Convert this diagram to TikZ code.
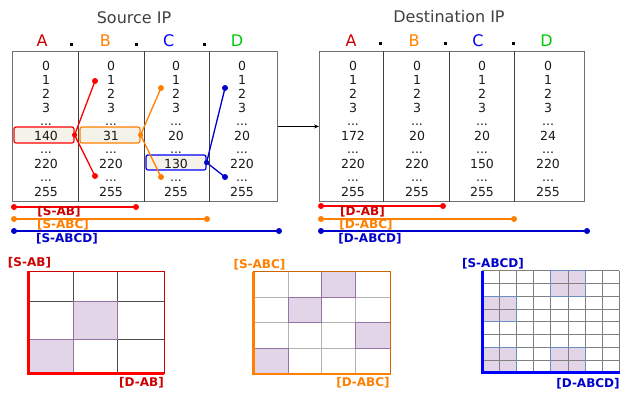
\documentclass[tikz,border=0pt]{standalone}
\usepackage{fontspec}
\setmainfont{DejaVu Sans}
\usetikzlibrary{arrows.meta}
\definecolor{cRed}{HTML}{FF0000}
\definecolor{cDRed}{HTML}{CC0000}
\definecolor{cOr}{HTML}{FF8000}
\definecolor{cBlue}{HTML}{0000CC}
\definecolor{cBlueL}{HTML}{0000FF}
\definecolor{cGreen}{HTML}{00CC00}
\definecolor{cFill}{HTML}{E1D5E7}
\definecolor{cPur}{HTML}{9673A6}
\definecolor{cBlk}{HTML}{6C8EBF}
\definecolor{cHl}{HTML}{F5F2EA}
\definecolor{cTitle}{HTML}{404040}
\definecolor{cNum}{HTML}{1A1A1A}
\definecolor{cBox}{HTML}{707070}
\begin{document}
\begin{tikzpicture}[x=1pt,y=-1pt,
  num/.style={font=\fontsize{12.5}{12.5}\selectfont, text=cNum, anchor=base, inner sep=0},
  ttl/.style={font=\fontsize{16}{16}\selectfont, text=cTitle, inner sep=0},
  oct/.style={font=\fontsize{16}{16}\selectfont, text=#1, inner sep=0},
  dotsep/.style={fill=black, minimum size=3pt, inner sep=0},
  tbl/.style={draw=cBox, line width=0.9pt, inner sep=0, anchor=north west, minimum width=265pt, minimum height=150pt},
  divl/.style={draw=black!75, line width=0.8pt},
  hl/.style={draw=#1, fill=cHl, line width=1.2pt, rounded corners=2pt, inner sep=0, minimum width=60pt, minimum height=16pt},
  lab/.style={font=\bfseries\fontsize{12}{12}\selectfont, text=#1, inner sep=0},
  seg/.style={draw=#1, line width=1.3pt},
  shcell/.style={fill=cFill},
]
\useasboundingbox (0,0) rectangle (620,392);

% ---------- titles ----------
\node[ttl] (tsrc) at (134,18) {Source IP};
\node[ttl] (tdst) at (449,17) {Destination IP};

% ---------- octet letters ----------
\node[oct=cDRed] (sA) at (42,41) {A};
\node[oct=cOr] (sB) at (105.3,41) {B};
\node[oct=cBlueL] (sC) at (168.7,41) {C};
\node[oct=cGreen] (sD) at (237,41) {D};
\node[dotsep] (sp1) at (71.7,44.3) {};
\node[dotsep] (sp2) at (136.7,44.3) {};
\node[dotsep] (sp3) at (204.3,44.3) {};

\node[oct=cDRed] (dA) at (351,41) {A};
\node[oct=cOr] (dB) at (414,41) {B};
\node[oct=cBlueL] (dC) at (478,41) {C};
\node[oct=cGreen] (dD) at (546.5,41) {D};
\node[dotsep] (dp1) at (380.7,43.3) {};
\node[dotsep] (dp2) at (445.7,43.3) {};
\node[dotsep] (dp3) at (513.3,43.3) {};

% ---------- tables ----------
\node[tbl] (src) at (12,51) {};
\foreach \x in {78,144,209} \draw[divl] (\x,0 |- src.north) -- (\x,0 |- src.south);
\node[tbl] (dst) at (319,51) {};
\foreach \x in {383,449,514} \draw[divl] (\x,0 |- dst.north) -- (\x,0 |- dst.south);

\draw[-{Stealth[length=5pt,width=4pt]}, line width=0.7pt] (src.east) -- (dst.west);

% highlight boxes
\node[hl=cRed] (hA) at (44,135) {};
\node[hl=cOr] (hB) at (110,135) {};
\node[hl=cBlueL, minimum height=15pt] (hC) at (176,162.5) {};

% source numbers
\foreach \cx/\va/\vb [count=\c] in {46/140/220,111/31/220,176/20/130,242/20/220}{
  \foreach \t [count=\r from 0] in {0,1,2,3}{\node[num] (s\c-\r) at (\cx,70+14*\r) {\t};}
  \node[num] (s\c-d1) at (\cx,125) {...};
  \node[num] (s\c-a) at (\cx,140) {\va};
  \node[num] (s\c-d2) at (\cx,153) {...};
  \node[num] (s\c-b) at (\cx,168) {\vb};
  \node[num] (s\c-d3) at (\cx,181) {...};
  \node[num] (s\c-e) at (\cx,196) {255};
}
% destination numbers
\foreach \cx/\va/\vb [count=\c] in {353/172/220,417/20/220,482/20/150,548/24/220}{
  \foreach \t [count=\r from 0] in {0,1,2,3}{\node[num] (d\c-\r) at (\cx,70+14*\r) {\t};}
  \node[num] (d\c-d1) at (\cx,125) {...};
  \node[num] (d\c-a) at (\cx,140) {\va};
  \node[num] (d\c-d2) at (\cx,153) {...};
  \node[num] (d\c-b) at (\cx,168) {\vb};
  \node[num] (d\c-d3) at (\cx,181) {...};
  \node[num] (d\c-e) at (\cx,196) {255};
}

% ---------- link connectors ----------
\coordinate (ra1) at (95,81);   \coordinate (ra2) at (95,176);
\coordinate (ob1) at (161,88);  \coordinate (ob2) at (161,177);
\coordinate (bc1) at (225,88);  \coordinate (bc2) at (225,177);
\draw[seg=cRed] (ra1) -- (hA.east) -- (ra2);
\draw[seg=cOr] (ob1) -- (hB.east) -- (ob2);
\draw[seg=cBlue] (bc1) -- (hC.east) -- (bc2);
\fill[cRed] (ra1) circle (3pt) (ra2) circle (3pt) (hA.east) circle (2.6pt);
\fill[cOr] (ob1) circle (3pt) (ob2) circle (3pt) (hB.east) circle (2.6pt);
\fill[cBlue] (bc1) circle (3pt) (bc2) circle (3pt) (hC.east) circle (2.6pt);

% ---------- range bars ----------
\coordinate (sab1) at (14,207);   \coordinate (sab2) at (136,207);
\coordinate (sabc1) at (14,219);  \coordinate (sabc2) at (207,219);
\coordinate (sabcd1) at (14,231); \coordinate (sabcd2) at (279,231);
\coordinate (dab1) at (321,206);   \coordinate (dab2) at (443,206);
\coordinate (dabc1) at (321,219);  \coordinate (dabc2) at (514,219);
\coordinate (dabcd1) at (321,231); \coordinate (dabcd2) at (587,231);
\draw[seg=cRed] (sab1) -- (sab2);
\draw[seg=cOr] (sabc1) -- (sabc2);
\draw[seg=cBlue] (sabcd1) -- (sabcd2);
\draw[seg=cRed] (dab1) -- (dab2);
\draw[seg=cOr] (dabc1) -- (dabc2);
\draw[seg=cBlue] (dabcd1) -- (dabcd2);
\fill[cRed] (sab1) circle (3pt) (sab2) circle (3pt) (dab1) circle (3pt) (dab2) circle (3pt);
\fill[cOr] (sabc1) circle (3pt) (sabc2) circle (3pt) (dabc1) circle (3pt) (dabc2) circle (3pt);
\fill[cBlue] (sabcd1) circle (3pt) (sabcd2) circle (3pt) (dabcd1) circle (3pt) (dabcd2) circle (3pt);
\node[lab=cDRed] (lsab) at (59,212) {[S-AB]};
\node[lab=cOr] (lsabc) at (63,225) {[S-ABC]};
\node[lab=cBlue] (lsabcd) at (67,238.5) {[S-ABCD]};
\node[lab=cDRed] (ldab) at (362.5,212) {[D-AB]};
\node[lab=cOr] (ldabc) at (366,225) {[D-ABC]};
\node[lab=cBlue] (ldabcd) at (370,238.5) {[D-ABCD]};

% ---------- grid 1 (AB) ----------
\fill[shcell] (73.3,301.7) rectangle (117.7,339);
\fill[shcell] (28.3,339) rectangle (73.3,373.3);
\draw[black!70, line width=0.9pt] (73.3,271) -- (73.3,373.3) (117.7,271) -- (117.7,373.3)
  (28.3,301.7) -- (164,301.7) (28.3,339) -- (164,339);
\draw[cPur, line width=0.9pt] (73.3,301.7) rectangle (117.7,339) (28.3,339) rectangle (73.3,373.3);
\draw[cRed!80!black, line width=0.7pt] (28.3,271) rectangle (164,373.3);
\draw[cRed, line width=2.6pt] (28.3,271) -- (28.3,373.3) -- (164,373.3);
\node[lab=cDRed] (g1s) at (29.5,262.7) {[S-AB]};
\node[lab=cDRed] (g1d) at (141.5,382.7) {[D-AB]};

% ---------- grid 2 (ABC) ----------
\fill[shcell] (321.7,271.7) rectangle (355.7,297.3);
\fill[shcell] (288.3,297.3) rectangle (321.7,322.3);
\fill[shcell] (355.7,322.3) rectangle (390.7,348.3);
\fill[shcell] (253.3,348.3) rectangle (288.3,374);
\draw[black!30, line width=1.2pt] (288.3,271.7) -- (288.3,374) (321.7,271.7) -- (321.7,374) (355.7,271.7) -- (355.7,374)
  (253.3,297.3) -- (390.7,297.3) (253.3,322.3) -- (390.7,322.3) (253.3,348.3) -- (390.7,348.3);
\draw[cPur, line width=0.9pt] (321.7,271.7) rectangle (355.7,297.3) (288.3,297.3) rectangle (321.7,322.3)
  (355.7,322.3) rectangle (390.7,348.3) (253.3,348.3) rectangle (288.3,374);
\draw[cOr!80!black, line width=0.7pt] (253.3,271.7) rectangle (390.7,374);
\draw[cOr, line width=2.6pt] (253.3,271.7) -- (253.3,374) -- (390.7,374);
\node[lab=cOr] (g2s) at (259.5,265) {[S-ABC]};
\node[lab=cOr] (g2d) at (363,383) {[D-ABC]};

% ---------- grid 3 (ABCD) ----------
\begin{scope}[shift={(482.3,270.7)}, x=17.125pt, y=-12.75pt]
  \fill[shcell] (4,0) rectangle (6,2) (0,2) rectangle (2,4) (0,6) rectangle (2,8) (4,6) rectangle (6,8);
  \foreach \i in {1,...,8} \draw[black!50, line width=0.8pt] (\i,0) -- (\i,8);
  \foreach \j in {0,...,7} \draw[black!50, line width=0.8pt] (0,\j) -- (8,\j);
  \draw[cBlk, line width=0.8pt] (4,0) rectangle (6,2) (0,2) rectangle (2,4) (0,6) rectangle (2,8) (4,6) rectangle (6,8);
  \draw[cBlueL, line width=2.6pt] (0,0) -- (0,8) -- (8.1,8);
\end{scope}
\node[lab=cBlue] (g3s) at (493,263.5) {[S-ABCD]};
\node[lab=cBlue] (g3d) at (588,383.3) {[D-ABCD]};
\end{tikzpicture}
\end{document}
